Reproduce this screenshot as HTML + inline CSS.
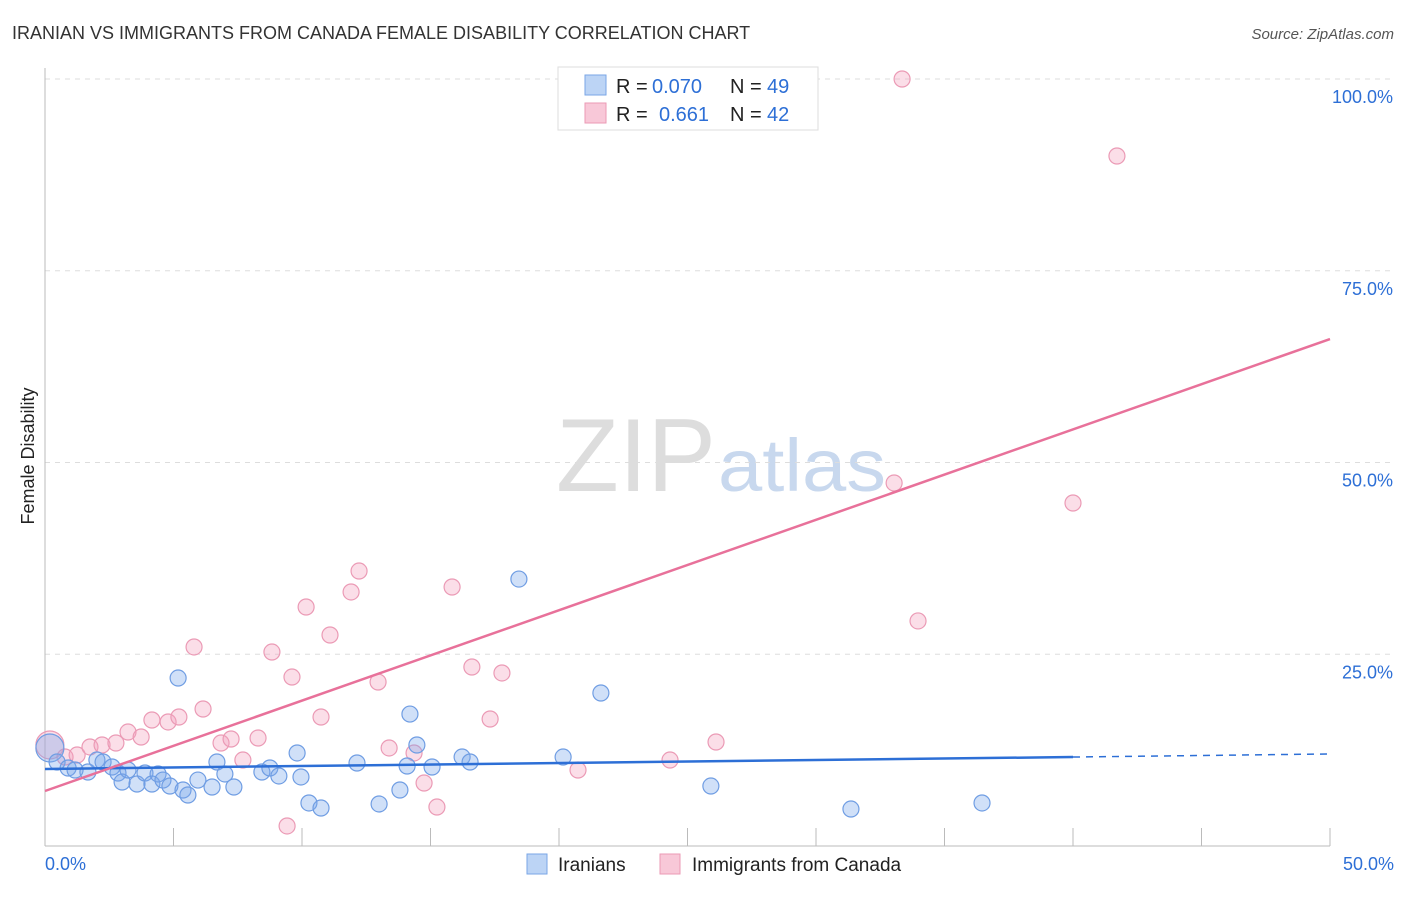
<!DOCTYPE html>
<html><head><meta charset="utf-8"><style>
body{margin:0;background:#fff;font-family:"Liberation Sans",sans-serif}
svg text{font-family:"Liberation Sans",sans-serif}
</style></head><body>
<svg id="c" width="1406" height="892">
<text x="12" y="39" font-size="18" fill="#333">IRANIAN VS IMMIGRANTS FROM CANADA FEMALE DISABILITY CORRELATION CHART</text>
<text x="1394" y="39" font-size="15" fill="#555" text-anchor="end" font-style="italic">Source: ZipAtlas.com</text>
<text x="34" y="456" font-size="18" fill="#222" text-anchor="middle" transform="rotate(-90 34 456)">Female Disability</text>
<text x="716" y="491" font-size="104" fill="#ddd" text-anchor="end" font-family="Liberation Serif" textLength="160" lengthAdjust="spacingAndGlyphs">ZIP</text>
<text x="718" y="491" font-size="74" fill="#c8d8ee" textLength="168" lengthAdjust="spacingAndGlyphs">atlas</text>
<g id="grid"></g><g id="marks"></g>
<g>
<rect x="558" y="67" width="260" height="63" fill="#fff" stroke="#ddd"/>
<rect x="585" y="75" width="21" height="20" fill="#bcd4f5" stroke="#7aa6e6"/>
<rect x="585" y="103" width="21" height="20" fill="#f8c8d8" stroke="#eb9ab5"/>
<text x="616" y="93" font-size="20" fill="#222">R =</text><text x="652" y="93" font-size="20" fill="#2d6fd6">0.070</text>
<text x="730" y="93" font-size="20" fill="#222">N =</text><text x="767" y="93" font-size="20" fill="#2d6fd6">49</text>
<text x="616" y="121" font-size="20" fill="#222">R =</text><text x="659" y="121" font-size="20" fill="#2d6fd6">0.661</text>
<text x="730" y="121" font-size="20" fill="#222">N =</text><text x="767" y="121" font-size="20" fill="#2d6fd6">42</text>
</g>
<g>
<rect x="527" y="854" width="20" height="20" fill="#bcd4f5" stroke="#7aa6e6"/>
<text x="558" y="871" font-size="19" fill="#222">Iranians</text>
<rect x="660" y="854" width="20" height="20" fill="#f8c8d8" stroke="#eb9ab5"/>
<text x="692" y="871" font-size="19" fill="#222">Immigrants from Canada</text>
</g>
</svg>
<script>
const yTicks=[25,50,75,100];
const yTickLabels=["25.0%","50.0%","75.0%","100.0%"];
const xTickLabels=["0.0%","50.0%"];
const blueX=[0.19,0.47,0.9,1.17,1.67,2.02,2.26,2.61,2.84,3.0,3.23,3.58,3.89,4.16,4.4,4.59,4.86,5.18,5.37,5.56,5.95,6.5,6.69,7.0,7.35,8.44,8.75,9.1,9.81,9.96,10.27,10.74,12.14,13.0,13.81,14.09,14.2,14.47,15.06,16.23,16.54,18.44,20.16,21.63,25.91,31.36,36.46];
const blueY=[12.78,10.95,10.17,9.91,9.65,11.21,10.95,10.3,9.52,8.34,9.91,8.08,9.52,8.08,9.39,8.6,7.82,21.9,7.3,6.65,8.6,7.69,10.95,9.39,7.69,9.65,10.17,9.13,12.13,9.0,5.61,4.95,10.82,5.48,7.3,10.43,17.2,13.17,10.3,11.6,10.95,34.8,11.6,19.95,7.82,4.82,5.61];
const pinkX=[0.19,0.78,1.25,1.75,2.22,2.76,3.23,3.74,4.16,4.79,5.21,5.8,6.15,6.85,7.24,7.7,8.29,8.83,9.42,9.61,10.16,10.74,11.09,11.91,12.22,12.96,13.39,14.36,14.75,15.25,15.84,16.61,17.32,17.78,20.74,24.32,26.11,33.04,33.35,33.97,40.0,41.71];
const pinkY=[13.17,11.6,11.86,12.91,13.17,13.43,14.86,14.21,16.43,16.17,16.82,25.95,17.86,13.43,13.95,11.21,14.08,25.29,2.61,22.03,31.16,16.82,27.51,33.12,35.85,21.38,12.78,12.13,8.21,5.08,33.77,23.34,16.56,22.56,9.91,11.21,13.56,47.33,100,29.34,44.72,89.96];
const blueTrend=[10.04,11.6,12.0]; // at x=0,40,50
const pinkTrend=[7.17,66.1]; // at x=0,50
const NS="http://www.w3.org/2000/svg";
const X=v=>45+v*25.7, Y=v=>846-v*7.67;
function mk(t,a,p){const e=document.createElementNS(NS,t);for(const k in a)e.setAttribute(k,a[k]);p.appendChild(e);return e;}
const g=document.getElementById('grid'),m=document.getElementById('marks');
yTicks.forEach((t,i)=>{
 const l=mk('line',{x1:45,x2:1395,y1:Y(t),y2:Y(t),stroke:'#ddd','stroke-dasharray':'5,5'},g);
 
 
 const tx=mk('text',{x:1393,y:Y(t)+24,'font-size':18,fill:'#2d6fd6','text-anchor':'end'},g);tx.textContent=yTickLabels[i];
 
 
});
mk('line',{x1:45,x2:45,y1:68,y2:846,stroke:'#bbb'},g);
mk('line',{x1:45,x2:1330,y1:846,y2:846,stroke:'#bbb'},g);
for(let i=0;i<=10;i++){const t=mk('line',{x1:X(i*5),x2:X(i*5),y1:828,y2:846,stroke:'#bbb'},g);
 
 }
[[0,'start',45],[50,'end',1394]].forEach((d,i)=>{const t=mk('text',{x:d[2],y:870,'font-size':18,fill:'#2d6fd6','text-anchor':d[1]},g);t.textContent=xTickLabels[i];
 
 });
function dots(xs,ys,fill,stroke,name){xs.forEach((x,i)=>{const c=mk('circle',{cx:X(x),cy:Y(ys[i]),r:i==0?14:8,fill:fill,stroke:stroke,'stroke-width':1.2},m);
 
 });}
dots(pinkX,pinkY,'rgba(244,160,190,0.35)','#eb9ab5','point-canada');
dots(blueX,blueY,'rgba(120,165,235,0.35)','#6f9de3','point-iranians');
let l=mk('line',{x1:X(0),y1:Y(blueTrend[0]),x2:X(40),y2:Y(blueTrend[1]),stroke:'#2d6fd6','stroke-width':2.5},m);


l=mk('line',{x1:X(40),y1:Y(blueTrend[1]),x2:X(50),y2:Y(blueTrend[2]),stroke:'#2d6fd6','stroke-width':1.5,'stroke-dasharray':'7,6'},m);


l=mk('line',{x1:X(0),y1:Y(pinkTrend[0]),x2:X(50),y2:Y(pinkTrend[1]),stroke:'#e8719a','stroke-width':2.5},m);


</script>
</body></html>
